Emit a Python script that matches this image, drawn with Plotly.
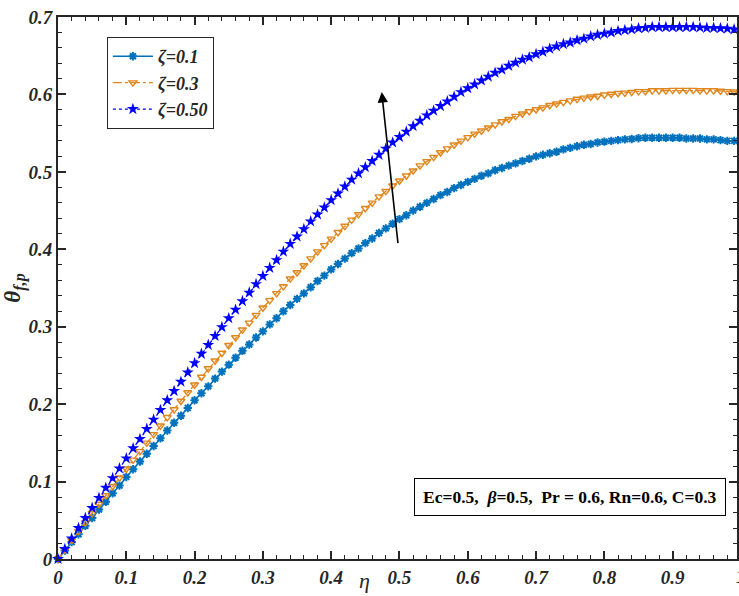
import plotly.graph_objects as go

eta = [round(i * 0.01, 2) for i in range(101)]

theta_z01 = [
    0.000,
    0.011, 0.022, 0.032, 0.043, 0.053, 0.064, 0.074, 0.085, 0.095, 0.106,
    0.116, 0.126, 0.136, 0.146, 0.156, 0.166, 0.176, 0.185, 0.195, 0.205,
    0.214, 0.223, 0.233, 0.242, 0.251, 0.260, 0.269, 0.277, 0.286, 0.294,
    0.303, 0.311, 0.320, 0.328, 0.336, 0.343, 0.351, 0.359, 0.366, 0.374,
    0.381, 0.388, 0.395, 0.401, 0.408, 0.414, 0.421, 0.427, 0.433, 0.439,
    0.444, 0.450, 0.455, 0.460, 0.465, 0.470, 0.474, 0.479, 0.483, 0.487,
    0.491, 0.495, 0.498, 0.502, 0.505, 0.508, 0.511, 0.514, 0.517, 0.520,
    0.522, 0.524, 0.526, 0.529, 0.531, 0.533, 0.535, 0.536, 0.538, 0.539,
    0.540, 0.541, 0.542, 0.5425, 0.5435, 0.544, 0.544, 0.544, 0.544, 0.544,
    0.544, 0.543, 0.543, 0.543, 0.542, 0.542, 0.541, 0.540, 0.540, 0.539,
]

theta_z03 = [
    0.000,
    0.012, 0.024, 0.036, 0.047, 0.059, 0.071, 0.082, 0.094, 0.105, 0.1165,
    0.128, 0.139, 0.150, 0.161, 0.172, 0.183, 0.193, 0.204, 0.215, 0.225,
    0.235, 0.246, 0.256, 0.266, 0.276, 0.286, 0.296, 0.305, 0.315, 0.3245,
    0.334, 0.343, 0.352, 0.362, 0.370, 0.379, 0.388, 0.397, 0.405, 0.4135,
    0.422, 0.430, 0.438, 0.445, 0.453, 0.460, 0.468, 0.475, 0.482, 0.4885,
    0.495, 0.5015, 0.508, 0.5135, 0.519, 0.525, 0.530, 0.535, 0.540, 0.5445,
    0.549, 0.553, 0.557, 0.561, 0.565, 0.568, 0.572, 0.575, 0.578, 0.5805,
    0.583, 0.586, 0.588, 0.590, 0.592, 0.594, 0.5955, 0.597, 0.598, 0.5995,
    0.6005, 0.6015, 0.602, 0.603, 0.604, 0.604, 0.605, 0.605, 0.605, 0.6055,
    0.6055, 0.6055, 0.6055, 0.605, 0.605, 0.605, 0.6045, 0.604, 0.6035, 0.603,
]

theta_z05 = [
    0.000,
    0.013, 0.0265, 0.040, 0.053, 0.066, 0.079, 0.092, 0.1045, 0.117, 0.130,
    0.143, 0.155, 0.168, 0.180, 0.1925, 0.205, 0.217, 0.229, 0.241, 0.253,
    0.265, 0.2765, 0.288, 0.2995, 0.311, 0.322, 0.333, 0.344, 0.355, 0.3655,
    0.376, 0.386, 0.397, 0.407, 0.4165, 0.426, 0.436, 0.445, 0.454, 0.4635,
    0.472, 0.481, 0.490, 0.498, 0.506, 0.514, 0.522, 0.530, 0.538, 0.545,
    0.552, 0.559, 0.566, 0.573, 0.579, 0.585, 0.591, 0.597, 0.603, 0.608,
    0.613, 0.618, 0.623, 0.628, 0.632, 0.637, 0.641, 0.645, 0.648, 0.652,
    0.655, 0.659, 0.662, 0.665, 0.667, 0.670, 0.672, 0.675, 0.677, 0.6785,
    0.680, 0.682, 0.683, 0.684, 0.6855, 0.686, 0.687, 0.687, 0.687, 0.687,
    0.687, 0.687, 0.687, 0.6865, 0.686, 0.686, 0.6855, 0.685, 0.684, 0.683,
]

series_names = ["<i>ζ=0.1</i>", "<i>ζ=0.3</i>", "<i>ζ=0.50</i>"]

x_tickvals = [0, 0.1, 0.2, 0.3, 0.4, 0.5, 0.6, 0.7, 0.8, 0.9]
x_ticktext = ["0", "0.1", "0.2", "0.3", "0.4", "0.5", "0.6", "0.7", "0.8", "0.9"]
y_tickvals = [0, 0.1, 0.2, 0.3, 0.4, 0.5, 0.6, 0.7]
y_ticktext = ["0", "0.1", "0.2", "0.3", "0.4", "0.5", "0.6", "0.7"]

FONT = "Liberation Serif"
AXCOL = "#262626"
TICKFONT = dict(family=FONT, size=19, color=AXCOL, weight="bold", style="italic")

X_MAX = 0.9942

fig = go.Figure()

fig.add_trace(go.Scatter(
    x=eta, y=theta_z01, name=series_names[0], mode="lines+markers", cliponaxis=False,
    line=dict(color="#0072BD", width=1.6),
    marker=dict(symbol="asterisk-open", size=7, color="#0072BD",
                line=dict(color="#0072BD", width=2)),
))
fig.add_trace(go.Scatter(
    x=eta, y=theta_z03, name=series_names[1], mode="lines+markers", cliponaxis=False,
    line=dict(color="#E0861C", width=1.3, dash="dashdot"),
    marker=dict(symbol="triangle-down-open", size=7, color="#E0861C",
                line=dict(color="#E0861C", width=1.4)),
))
fig.add_trace(go.Scatter(
    x=eta, y=theta_z05, name=series_names[2], mode="lines+markers", cliponaxis=False,
    line=dict(color="#0000FF", width=1.3, dash="dot"),
    marker=dict(symbol="star", size=9, color="#0000FF",
                line=dict(color="#0000FF", width=0)),
))

# arrow showing increasing zeta
fig.add_annotation(
    x=0.474, y=0.603, ax=0.498, ay=0.406, xref="x", yref="y", axref="x", ayref="y",
    text="", showarrow=True, arrowhead=2, arrowsize=1.3, arrowwidth=1.6, arrowcolor="black",
)

# parameter box
fig.add_annotation(
    x=0.749, y=0.080, xref="x", yref="y",
    text="<b>Ec=0.5,  <i>β</i>=0.5,  Pr = 0.6, Rn=0.6, C=0.3</b>",
    showarrow=False, font=dict(family=FONT, size=17.5, color="black"),
    bgcolor="white", bordercolor="black", borderwidth=1, borderpad=8,
)

# x-axis title placed as in the reference
fig.add_annotation(
    x=0.452, y=-0.039, xref="paper", yref="paper", text="<i>η</i>",
    showarrow=False, yanchor="middle", xanchor="center",
    font=dict(family=FONT, size=22, color=AXCOL),
)

# partially visible tick label at eta = 1
fig.add_annotation(
    x=1.0 / X_MAX, y=0, xref="paper", yref="paper", text="<b><i>1</i></b>",
    showarrow=False, yanchor="top", xanchor="center", yshift=-5,
    font=dict(family=FONT, size=19, color=AXCOL),
)

fig.update_layout(
    width=739, height=596,
    margin=dict(l=58, r=0, t=17, b=37),
    paper_bgcolor="white", plot_bgcolor="white",
    showlegend=True,
    legend=dict(
        x=0.072, y=0.963, xanchor="left", yanchor="top",
        bgcolor="white", bordercolor="#262626", borderwidth=1,
        font=dict(family=FONT, size=18, color=AXCOL, weight="bold"),
        itemwidth=40, tracegroupgap=0,
    ),
)

fig.update_xaxes(
    range=[0, X_MAX], tickvals=x_tickvals, ticktext=x_ticktext,
    tickfont=TICKFONT, ticks="inside", ticklen=8, tickwidth=1.5, tickcolor=AXCOL,
    minor=dict(dtick=0.02, ticks="inside", ticklen=4, tickwidth=1.2, tickcolor=AXCOL),
    showline=True, linecolor=AXCOL, linewidth=2, mirror="ticks",
    showgrid=False, zeroline=False,
)
fig.update_yaxes(
    range=[0, 0.7], tickvals=y_tickvals, ticktext=y_ticktext,
    tickfont=TICKFONT, ticks="inside", ticklen=8, tickwidth=1.5, tickcolor=AXCOL,
    minor=dict(dtick=0.02, ticks="inside", ticklen=4, tickwidth=1.2, tickcolor=AXCOL),
    showline=True, linecolor=AXCOL, linewidth=2, mirror="ticks",
    showgrid=False, zeroline=False,
    title=dict(text="<b><i>θ<sub>f,p</sub></i></b>", font=dict(family=FONT, size=23, color=AXCOL), standoff=1),
)

fig.write_html("out.html")
